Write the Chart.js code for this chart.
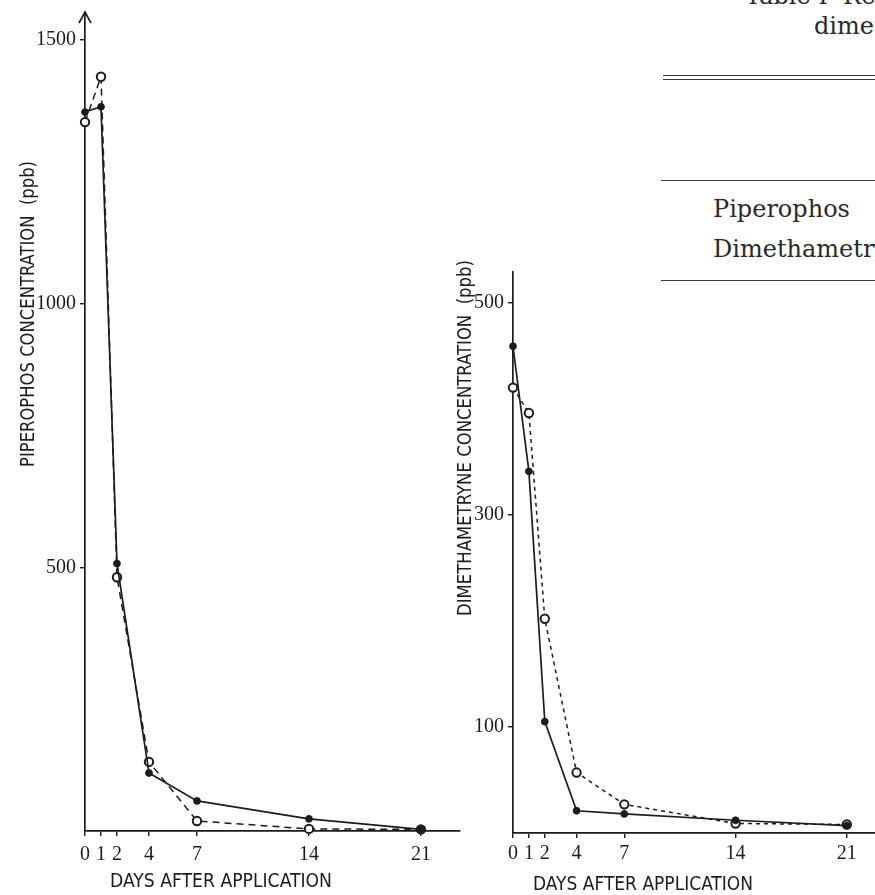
<!DOCTYPE html>
<html>
<head>
<meta charset="utf-8">
<script src="https://cdn.jsdelivr.net/npm/chart.js@4/dist/chart.umd.min.js"></script>
<style>
html,body{margin:0;padding:0;background:#fff;width:875px;height:895px;overflow:hidden;position:relative}
canvas{position:absolute;top:0}
#leftChart{left:0}
#rightChart{left:420px}
.t{position:absolute;font-family:"DejaVu Serif",serif;color:#2a2a2a;white-space:nowrap}
.rule{position:absolute;height:0;border-top:1.6px solid #3a3a3a;right:0}
</style>
</head>
<body>
<div class="t" style="left:745px;top:-16px;font-size:24px;line-height:24px">Table I&nbsp;&nbsp;Residues of piperophos and</div>
<div class="t" style="left:814px;top:14px;font-size:24px;line-height:24px">dimethametryne</div>
<div class="rule" style="left:663px;top:75px;width:212px"></div>
<div class="rule" style="left:663px;top:79px;width:212px"></div>
<div class="rule" style="left:661px;top:180px;width:214px"></div>
<div class="t" style="left:713px;top:197px;font-size:24px;line-height:24px">Piperophos</div>
<div class="t" style="left:713px;top:237px;font-size:24px;line-height:24px">Dimethametryne</div>
<div class="rule" style="left:661px;top:280px;width:214px"></div>

<canvas id="leftChart" width="470" height="895"></canvas>
<canvas id="rightChart" width="455" height="895"></canvas>

<script>
// ---- data ----
const days = [0, 1, 2, 4, 7, 14, 21];
const xTickValues = [0, 1, 2, 4, 7, 14, 21];

const piperophosFilled = [1363, 1373, 507, 110, 57, 23, 3];   // solid line, filled dots
const piperophosOpen   = [1344, 1430, 481, 131, 19, 4, 3];    // dashed line, open circles
const piperophosTicks  = [500, 1000, 1500];

const dimethFilled = [459, 341, 105, 21, 18, 12, 7];          // solid line, filled dots
const dimethOpen   = [420, 396, 202, 57, 27, 9, 8];           // dashed line, open circles
const dimethTicks  = [100, 300, 500];

const xTitle = 'DAYS AFTER APPLICATION';
const leftYTitle = 'PIPEROPHOS CONCENTRATION  (ppb)';
const rightYTitle = 'DIMETHAMETRYNE CONCENTRATION  (ppb)';

// ---- helpers ----
const INK = '#1c1c1c';
const toPts = (vals) => days.map((d, i) => ({x: d, y: vals[i]}));

const titlesPlugin = {
  id: 'handTitles',
  afterDraw(chart, args, o) {
    const ctx = chart.ctx;
    ctx.save();
    ctx.fillStyle = INK;
    ctx.font = o.font;
    ctx.textAlign = 'center';
    ctx.textBaseline = 'middle';
    let w = ctx.measureText(o.xText).width;
    ctx.save();
    ctx.translate(o.xAt[0], o.xAt[1]);
    ctx.scale(o.xWidth / w, 1);
    ctx.fillText(o.xText, 0, 0);
    ctx.restore();
    w = ctx.measureText(o.yText).width;
    ctx.save();
    ctx.translate(o.yAt[0], o.yAt[1]);
    ctx.rotate(-Math.PI / 2);
    ctx.scale(o.yWidth / w, 1);
    ctx.fillText(o.yText, 0, 0);
    ctx.restore();
    if (o.arrow) {
      const a = chart.chartArea;
      ctx.strokeStyle = INK;
      ctx.lineWidth = 1.6;
      ctx.beginPath();
      ctx.moveTo(a.left, a.top);
      ctx.lineTo(a.left, a.top - 3);
      ctx.moveTo(a.left - 6, a.top + 8);
      ctx.lineTo(a.left, a.top - 3);
      ctx.lineTo(a.left + 6, a.top + 8);
      ctx.stroke();
    }
    ctx.restore();
  }
};

function makeChart(id, cfg) {
  return new Chart(document.getElementById(id), {
    type: 'line',
    data: {
      datasets: [
        {
          data: toPts(cfg.filled),
          borderColor: INK, borderWidth: 1.7,
          pointRadius: 3.4, pointBackgroundColor: INK, pointBorderColor: INK, pointBorderWidth: 1,
          tension: 0, clip: false
        },
        {
          data: toPts(cfg.open),
          borderColor: INK, borderWidth: 1.5, borderDash: cfg.dash,
          pointRadius: 4.2, pointBackgroundColor: '#fff', pointBorderColor: INK, pointBorderWidth: 2,
          tension: 0, clip: false
        }
      ]
    },
    options: {
      responsive: false,
      animation: false,
      layout: {padding: cfg.padding, autoPadding: false},
      plugins: {
        legend: {display: false},
        tooltip: {enabled: false},
        handTitles: cfg.titles
      },
      scales: {
        x: {
          type: 'linear', min: 0, max: cfg.xMax,
          afterBuildTicks: s => { s.ticks = xTickValues.map(v => ({value: v})); },
          afterFit: s => { s.height = cfg.xHeight; s.paddingLeft = 0; s.paddingRight = 0; },
          border: {display: true, color: INK, width: 1.7},
          grid: {display: true, drawOnChartArea: false, drawTicks: true, tickLength: 5, color: INK, lineWidth: 1.4},
          ticks: {color: INK, padding: cfg.xPad, maxRotation: 0, autoSkip: false,
                  callback: v => String(v),
                  font: {family: '"Liberation Serif", serif', size: 20}}
        },
        y: {
          type: 'linear', min: 0, max: cfg.yMax,
          afterBuildTicks: s => { s.ticks = cfg.yTicks.map(v => ({value: v})); },
          afterFit: s => { s.width = cfg.yWidth; s.paddingTop = 0; s.paddingBottom = 0; },
          border: {display: true, color: INK, width: 1.7},
          grid: {display: true, drawOnChartArea: false, drawTicks: true, tickLength: 5, color: INK, lineWidth: 1.4},
          ticks: {color: INK, padding: 4, autoSkip: false,
                  callback: v => String(v),
                  font: {family: '"Liberation Serif", serif', size: 20}}
        }
      }
    },
    plugins: [titlesPlugin]
  });
}

makeChart('leftChart', {
  filled: piperophosFilled, open: piperophosOpen, yTicks: piperophosTicks,
  dash: [7, 5],
  xMax: 23.44, yMax: 1547,
  padding: {top: 15, right: 10, bottom: 0, left: 0},
  yWidth: 85, xHeight: 64, xPad: 7,
  titles: {font: '20px "Liberation Sans Narrow", "DejaVu Sans Condensed", sans-serif',
           xText: xTitle, xAt: [221, 882], xWidth: 222,
           yText: leftYTitle, yAt: [29, 314], yWidth: 306, arrow: true}
});

makeChart('rightChart', {
  filled: dimethFilled, open: dimethOpen, yTicks: dimethTicks,
  dash: [4, 4],
  xMax: 22.77, yMax: 529,
  padding: {top: 272, right: 0, bottom: 0, left: 0},
  yWidth: 93, xHeight: 62, xPad: 4,
  titles: {font: '20px "Liberation Sans Narrow", "DejaVu Sans Condensed", sans-serif',
           xText: xTitle, xAt: [223, 885], xWidth: 220,
           yText: rightYTitle, yAt: [46, 438], yWidth: 356, arrow: false}
});
</script>
</body>
</html>
